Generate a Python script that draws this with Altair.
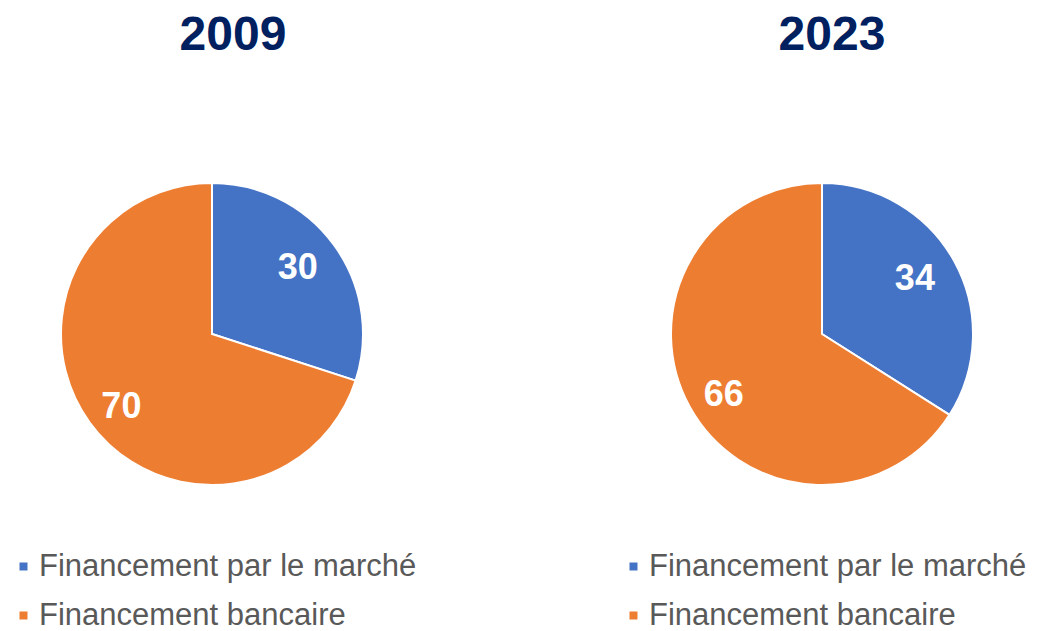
import altair as alt
import pandas as pd

years = ["2009", "2023"]
categories = ["Financement par le marché", "Financement bancaire"]
values_2009 = [30, 70]
values_2023 = [34, 66]
colors = ["#4472C4", "#ED7D31"]

rows = []
for yr, vals in zip(years, [values_2009, values_2023]):
    for i, (c, v) in enumerate(zip(categories, vals)):
        rows.append({"year": yr, "cat": c, "value": v, "ord": i})
df = pd.DataFrame(rows)

FONT = "Liberation Sans"
TSCALE = alt.Scale(domain=[0, 100])


def panel(yr, dx):
    base = (
        alt.Chart(df)
        .transform_filter(alt.datum.year == yr)
        .transform_window(
            cum="sum(value)", sort=[alt.SortField("ord")], frame=[None, 0]
        )
        .transform_calculate(
            start="datum.cum - datum.value", mid="datum.cum - datum.value / 2"
        )
    )
    arc = base.mark_arc(radius=151, stroke="white", strokeWidth=2).encode(
        theta=alt.Theta("start:Q", scale=TSCALE, stack=None),
        theta2=alt.Theta2("cum:Q"),
        color=alt.Color(
            "cat:N",
            scale=alt.Scale(domain=categories, range=colors),
            legend=alt.Legend(
                title=None,
                orient="none",
                legendX=0,
                legendY=368,
                direction="vertical",
                symbolType="square",
                symbolSize=64,
                symbolStrokeWidth=0,
                labelFont=FONT,
                labelFontSize=31,
                labelColor="#595959",
                labelOffset=0,
                labelLimit=600,
                rowPadding=17,
                padding=0,
            ),
            sort=categories,
        ),
    )
    txt_style = dict(fontSize=36, fontWeight="bold", color="white", font=FONT)
    txt_blue = (
        base.transform_filter(alt.datum.ord == 0)
        .mark_text(radius=106, dy=-4, **txt_style)
        .encode(
            theta=alt.Theta("mid:Q", scale=TSCALE, stack=None),
            text=alt.Text("value:Q"),
        )
    )
    txt_orange = (
        base.transform_filter(alt.datum.ord == 1)
        .mark_text(radius=112, dy=7, **txt_style)
        .encode(
            theta=alt.Theta("mid:Q", scale=TSCALE, stack=None),
            text=alt.Text("value:Q"),
        )
    )
    return alt.layer(arc, txt_blue, txt_orange).properties(
        width=408,
        height=302,
        title=alt.TitleParams(
            text=yr,
            fontSize=48,
            fontWeight="bold",
            color="#002060",
            font=FONT,
            anchor="middle",
            dx=dx,
            offset=119,
        ),
    )


chart = (
    alt.hconcat(panel("2009", 21), panel("2023", 10), spacing=202, bounds="flush")
    .resolve_legend(color="independent")
    .resolve_scale(color="independent")
    .configure(padding={"top": 4, "bottom": 0, "left": 0, "right": 0})
    .configure_view(stroke=None)
)

chart.save("out.html", embed_options={"renderer": "svg", "actions": False})
